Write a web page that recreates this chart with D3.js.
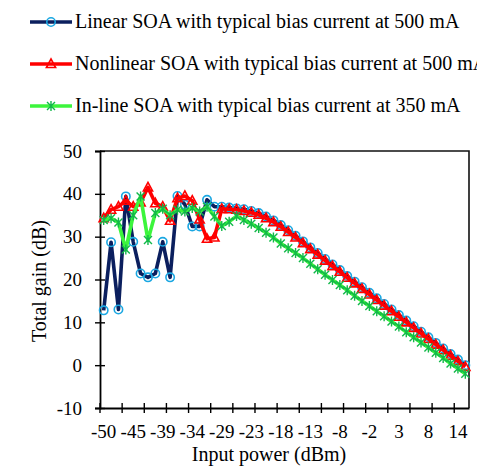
<!DOCTYPE html>
<html>
<head>
<meta charset="utf-8">
<script src="https://cdn.jsdelivr.net/npm/d3@7"></script>
<style>
  body { margin: 0; background: #fff; }
  svg { display: block; font-family: "Liberation Serif", "Times New Roman", serif; }
</style>
</head>
<body>
<div id="container"></div>
<script>
// input power categories (dBm) - category axis, one point each
var inputPower = [-50, -48.7, -47.3, -46, -44.7, -43.3, -42, -40.7, -39.3, -38,
    -36.7, -35.3, -34, -32.7, -31.3, -30, -28.7, -27.3, -26, -24.7,
    -23.3, -22, -20.7, -19.3, -18, -16.7, -15.3, -14, -12.7, -11.3,
    -10, -8.7, -7.7, -6.3, -5, -3.7, -2.3, -1, 0.3, 1.7,
    3, 4.3, 5.7, 7, 8.3, 9.7, 11, 12.3, 13.7, 15];

var linearGain = [12.8, 28.7, 13.0, 39.4, 28.8, 21.4, 20.5, 21.4, 28.8, 20.5,
    39.5, 37.5, 32.4, 32.4, 38.6, 37.0, 37.0, 36.8, 36.6, 36.4,
    36.0, 35.5, 34.7, 33.8, 32.7, 31.5, 30.2, 28.9, 27.5, 26.2,
    24.8, 23.5, 22.2, 20.8, 19.5, 18.2, 16.9, 15.6, 14.3, 13.0,
    11.7, 10.4, 9.1, 7.8, 6.5, 5.2, 3.9, 2.6, 1.3, 0.0];

var nonlinearGain = [34.3, 36.3, 37.0, 38.4, 37.0, 38.0, 41.5, 37.8, 37.0, 33.7,
    39.0, 39.5, 38.4, 34.0, 29.5, 29.8, 36.5, 36.4, 36.3, 36.0,
    35.6, 35.1, 34.3, 33.4, 32.3, 31.1, 29.8, 28.5, 27.1, 25.8,
    24.4, 23.1, 21.8, 20.4, 19.1, 17.8, 16.5, 15.2, 13.9, 12.6,
    11.3, 10.0, 8.7, 7.4, 6.1, 4.8, 3.5, 2.2, 0.9, -0.4];

var inlineGain = [33.9, 34.3, 33.3, 27.0, 35.0, 39.4, 29.2, 35.5, 36.5, 35.0,
    36.3, 35.9, 36.7, 35.9, 37.0, 34.7, 32.5, 33.5, 34.8, 33.9,
    33.0, 32.0, 30.9, 29.8, 28.4, 27.3, 26.2, 25.0, 23.7, 22.4,
    21.1, 19.9, 18.7, 17.5, 16.2, 15.0, 13.8, 12.6, 11.4, 10.2,
    9.0, 7.7, 6.5, 5.3, 4.1, 2.9, 1.7, 0.4, -0.8, -2.0];

var seriesNames = ['Linear SOA with typical bias current at 500 mA',
    'Nonlinear SOA with typical bias current at 500 mA',
    'In-line SOA with typical bias current at 350 mA'];

var yTicks = [-10, 0, 10, 20, 30, 40, 50];

var width = 477;
var height = 475;
var plotLeft = 100, plotRight = 469, plotTop = 151, plotBottom = 408;

var series = [
    {name: seriesNames[0], values: linearGain, line: '#0b1f5e', marker: 'circle', mcolor: '#1aa7e2'},
    {name: seriesNames[1], values: nonlinearGain, line: '#ff0000', marker: 'triangle', mcolor: '#ff0000'},
    {name: seriesNames[2], values: inlineGain, line: '#3cf53c', marker: 'star', mcolor: '#12b84a'}
];

function drawMarker(g, type, color, mx, my){
    if(type == 'circle'){
        g.append('circle').attr('cx', mx).attr('cy', my).attr('r', 4.2)
            .attr('fill', 'none').attr('stroke', color).attr('stroke-width', 1.6);
    } else if(type == 'triangle'){
        g.append('path')
            .attr('d', 'M' + mx + ',' + (my - 5) + 'L' + (mx + 4.6) + ',' + (my + 3.5) + 'L' + (mx - 4.6) + ',' + (my + 3.5) + 'Z')
            .attr('fill', 'none').attr('stroke', color).attr('stroke-width', 1.6);
    } else {
        let s = 4;
        g.append('path')
            .attr('d', 'M' + (mx - s) + ',' + (my - s) + 'L' + (mx + s) + ',' + (my + s) +
                'M' + (mx + s) + ',' + (my - s) + 'L' + (mx - s) + ',' + (my + s) +
                'M' + mx + ',' + (my - s - 1) + 'L' + mx + ',' + (my + s + 1))
            .attr('fill', 'none').attr('stroke', color).attr('stroke-width', 1.4);
    }
}

let svg = d3.select('#container').append('svg')
    .attr('width', width).attr('height', height)
    .style('background', '#fff');

let x = d3.scaleBand().domain(inputPower).range([plotLeft, plotRight]).padding(0);
let y = d3.scaleLinear().domain([-10, 50]).range([plotBottom, plotTop]);
let xc = d => x(d) + x.bandwidth() / 2;

// frame top + right
svg.append('path')
    .attr('d', 'M' + plotLeft + ',' + plotTop + 'H' + plotRight + 'V' + plotBottom)
    .attr('fill', 'none').attr('stroke', '#111').attr('stroke-width', 1.6);

// y axis
let yAxis = svg.append('g').attr('transform', 'translate(' + plotLeft + ',0)')
    .call(d3.axisLeft(y).tickValues(yTicks).tickSize(5).tickPadding(13).tickFormat(d => String(d)));
yAxis.select('.domain').attr('stroke', '#000').attr('stroke-width', 1.8);
yAxis.selectAll('.tick line').attr('x1', -5).attr('x2', 5).attr('stroke-width', 1.4);
yAxis.selectAll('text').attr('font-size', 19).attr('font-family', 'Liberation Serif').attr('fill', '#000');

// x axis labels every 4 categories
let xAxis = svg.append('g').attr('transform', 'translate(0,' + plotBottom + ')')
    .call(d3.axisBottom(x).tickValues(inputPower.filter((d, i) => i % 4 == 0))
        .tickSize(0).tickPadding(17).tickFormat(d => String(Math.round(d))));
xAxis.select('.domain').attr('stroke', '#000').attr('stroke-width', 1.8);
xAxis.selectAll('text').attr('font-size', 19).attr('font-family', 'Liberation Serif').attr('fill', '#000');

// x tick marks between categories, every 3
let boundaries = inputPower.filter((d, i) => i % 3 == 0 && i <= 48);
svg.append('g').selectAll('line').data(boundaries).enter().append('line')
    .attr('x1', d => x(d)).attr('x2', d => x(d))
    .attr('y1', plotBottom - 5).attr('y2', plotBottom + 5)
    .attr('stroke', '#000').attr('stroke-width', 1.4);

// axis titles
svg.append('text').attr('x', 269).attr('y', 461).attr('text-anchor', 'middle')
    .attr('font-size', 20).text('Input power (dBm)');
svg.append('text').attr('transform', 'translate(46,281) rotate(-90)').attr('text-anchor', 'middle')
    .attr('font-size', 20).text('Total gain (dB)');

// series
let line = d3.line().x((d, i) => xc(inputPower[i])).y(d => y(d));
series.forEach(function(s){
    let g = svg.append('g');
    g.append('path').datum(s.values).attr('d', line)
        .attr('fill', 'none').attr('stroke', s.line).attr('stroke-width', 3.6)
        .attr('stroke-linejoin', 'round');
    s.values.forEach(function(v, i){
        drawMarker(g, s.marker, s.mcolor, xc(inputPower[i]), y(v));
    });
});

// legend
let rows = [22, 64, 106];
series.forEach(function(s, i){
    let g = svg.append('g');
    g.append('line').attr('x1', 30).attr('x2', 72).attr('y1', rows[i]).attr('y2', rows[i])
        .attr('stroke', s.line).attr('stroke-width', 3.6);
    drawMarker(g, s.marker, s.mcolor, 51, rows[i]);
    g.append('text').attr('x', 75).attr('y', rows[i] + 6).attr('font-size', 20).text(s.name);
});
</script>
</body>
</html>
